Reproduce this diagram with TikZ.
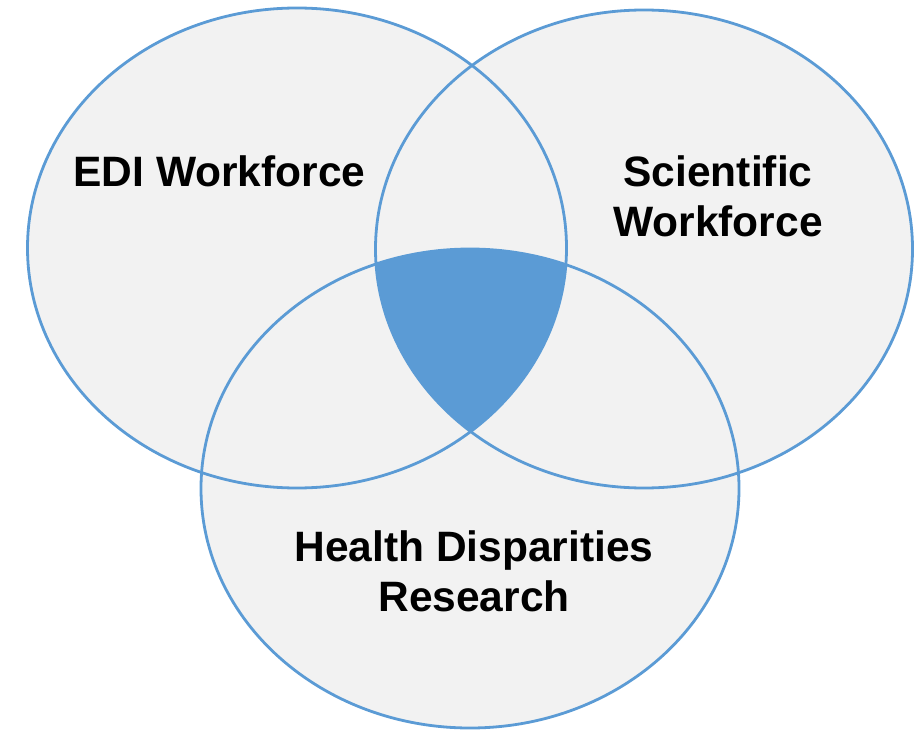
\documentclass[tikz,border=0pt]{standalone}
\usepackage{fontspec}
\setmainfont{Liberation Sans}
\definecolor{vblue}{HTML}{5B9BD5}
\definecolor{vgray}{HTML}{F2F2F2}
\tikzset{
  lbl/.style={font=\fontsize{42.5}{50}\selectfont\bfseries, align=center, inner sep=0pt, text=black},
  outline/.style={draw=vblue, line width=2.8pt}
}
\begin{document}
\begin{tikzpicture}[x=1pt,y=-1pt]
\useasboundingbox (0,0) rectangle (917,730);
\def\ea{(297,248) ellipse [x radius=269.5, y radius=240]}
\def\eb{(644,249) ellipse [x radius=268.5, y radius=239]}
\def\ec{(470,488.5) ellipse [x radius=269, y radius=239.5]}
\fill[vgray] \ea;
\fill[vgray] \eb;
\fill[vgray] \ec;
\begin{scope}
  \clip \ea;
  \clip \eb;
  \fill[vblue] \ec;
\end{scope}
\draw[outline] \ea;
\draw[outline] \eb;
\draw[outline] \ec;
\node[lbl] (edi) at (219.5,171.5) {EDI Workforce};
\node[lbl] (sci) at (718,196) {Scientific\\Workforce};
\node[lbl] (hdr) at (474,571.5) {Health Disparities\\Research};
\end{tikzpicture}
\end{document}
